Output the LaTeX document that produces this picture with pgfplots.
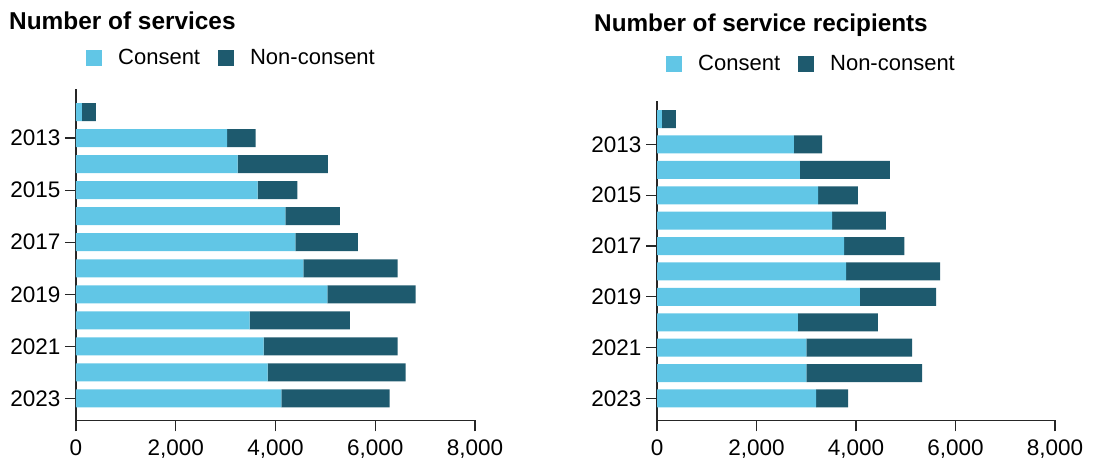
\documentclass[border=0pt]{standalone}
\usepackage{fontspec}
\setmainfont{Liberation Sans}
\usepackage{pgfplots}
\pgfplotsset{compat=1.18}
\definecolor{consent}{RGB}{97,198,230}
\definecolor{noncons}{RGB}{30,90,110}
\pgfplotsset{
  mystyle/.style={
    scale only axis,
    xbar stacked,
    bar width=18pt,
    xmin=0, xmax=8000,
    xtick={0,2000,4000,6000,8000},
    ytick={0,2,4,6,8,10},
    yticklabels={2023,2021,2019,2017,2015,2013},
    /pgf/number format/assume math mode=true,
    xticklabel style={/pgf/number format/1000 sep={,}, yshift=-5pt},
    yticklabel style={xshift=-1pt},
    axis x line*=bottom, axis y line*=left,
    x axis line style={-, color=black!85, line width=1.3pt},
    y axis line style={-, color=black!85, line width=1.3pt},
    tick align=outside,
    major tick length=11pt,
    tick style={black!85, line width=1.2pt},
    ticklabel style={font=\fontsize{22.5}{26}\selectfont},
    legend columns=2,
    legend style={draw=none, fill=none, inner sep=0pt, anchor=west,
      font=\fontsize{22}{26}\selectfont,
      /tikz/every even column/.append style={column sep=16pt}},
    legend image code/.code={\fill[##1] (0pt,-8pt) rectangle (16pt,8pt); \path (30pt,0pt);},
  }
}
\begin{document}
\begin{tikzpicture}[x=1pt,y=1pt]
\useasboundingbox (0,0) rectangle (1095,468);
\node[anchor=base west, inner sep=0pt, font=\bfseries\fontsize{24.4}{28}\selectfont] at (9,438.5) {Number of services};
\node[anchor=base west, inner sep=0pt, font=\bfseries\fontsize{24.3}{28}\selectfont] at (594,436.6) {Number of service recipients};

\begin{axis}[mystyle, at={(76pt,47.5pt)}, anchor=south west,
  width=399pt, height=331.5pt, ymin=-0.846, ymax=11.885,
  legend style={at={(0.025,1.094)}}]
\addplot[fill=consent, draw=none] coordinates {
 (120,11) (3030,10) (3240,9) (3640,8) (4200,7) (4400,6)
 (4560,5) (5040,4) (3480,3) (3760,2) (3840,1) (4120,0)};
\addplot[fill=noncons, draw=none] coordinates {
 (280,11) (570,10) (1810,9) (800,8) (1090,7) (1250,6)
 (1890,5) (1770,4) (2010,3) (2690,2) (2770,1) (2170,0)};
\legend{Consent, Non-consent}
\end{axis}

\begin{axis}[mystyle, at={(657pt,47.5pt)}, anchor=south west,
  width=398pt, height=319.5pt, ymin=-0.866, ymax=11.71,
  legend style={at={(0.0226,1.116)}}]
\addplot[fill=consent, draw=none] coordinates {
 (100,11) (2750,10) (2870,9) (3240,8) (3520,7) (3760,6)
 (3800,5) (4080,4) (2830,3) (3000,2) (3000,1) (3200,0)};
\addplot[fill=noncons, draw=none] coordinates {
 (280,11) (570,10) (1810,9) (800,8) (1080,7) (1210,6)
 (1890,5) (1530,4) (1610,3) (2130,2) (2330,1) (640,0)};
\legend{Consent, Non-consent}
\end{axis}
\end{tikzpicture}
\end{document}
